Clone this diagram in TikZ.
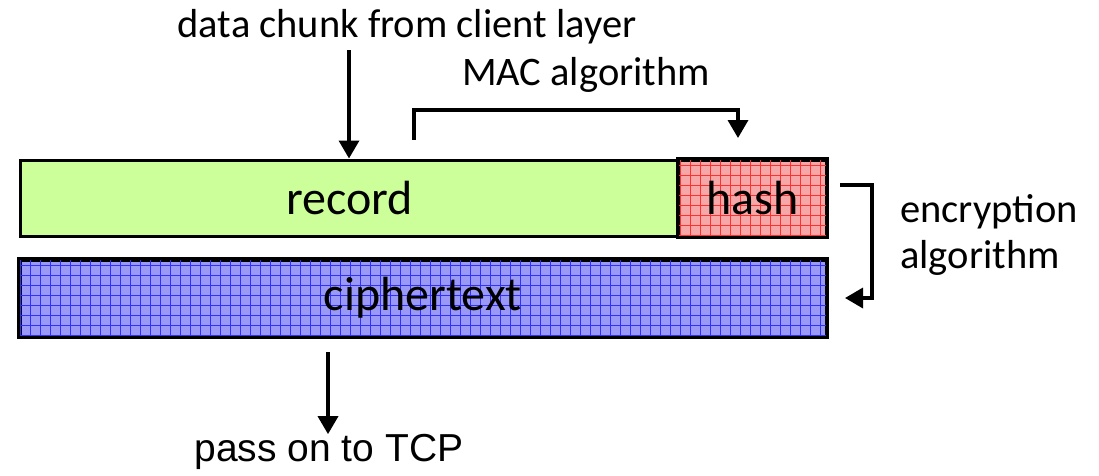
\documentclass[tikz,border=0pt]{standalone}
\usepackage{fontspec}
\setmainfont{Carlito}
\newfontfamily\arialfont{Liberation Sans}
\usetikzlibrary{arrows.meta,patterns.meta}
\definecolor{recgreen}{HTML}{CCFF99}
\definecolor{hashpink}{HTML}{F6A8A8}
\definecolor{hashred}{HTML}{FF3030}
\definecolor{ciphblue}{HTML}{9A9AF6}
\definecolor{ciphline}{HTML}{3030FF}
\tikzset{
  box/.style={draw=black, line width=3pt, minimum height=76pt, inner sep=0pt, font=\fontsize{48}{52}\selectfont},
  lbl/.style={font=\fontsize{40.5}{46}\selectfont, inner sep=0pt},
  conn/.style={line width=3.5pt, -{Triangle[length=18pt,width=20pt]}},
  hatch/.style 2 args={pattern={Lines[angle=#1,distance=10pt,line width=0.9pt]}, pattern color=#2},
}
\begin{document}
\begin{tikzpicture}[x=1pt,y=-1pt]
\useasboundingbox (0,0) rectangle (1099,475);
% boxes
\node[box, fill=recgreen, minimum width=659pt] (record) at (349.5,198) {record};
\node[box, fill=hashpink, minimum width=147pt] (hash) at (752.5,198) {};
\fill[hatch={0}{hashred}] (hash.south west) rectangle (hash.north east);
\fill[hatch={90}{hashred}] (hash.south west) rectangle (hash.north east);
\draw[line width=3pt] (hash.south west) rectangle (hash.north east);
\node[box, draw=none, fill=none, minimum width=147pt] (hashtext) at (hash.center) {hash};
\node[box, fill=ciphblue, minimum width=806pt] (cipher) at (423,298) {};
\fill[hatch={0}{ciphline}] (cipher.south west) rectangle (cipher.north east);
\fill[hatch={90}{ciphline}] (cipher.south west) rectangle (cipher.north east);
\draw[line width=3pt] (cipher.south west) rectangle (cipher.north east);
\node[box, draw=none, fill=none, minimum width=806pt] (ciphertext) at (cipher.center) {ciphertext};
% labels
\node[lbl] (data) at (407,27) {data chunk from client layer};
\node[lbl] (mac) at (586,75) {MAC algorithm};
\node[lbl, align=left] (enc) at (989,235) {encryption\\algorithm};
\node[lbl, font=\arialfont\fontsize{39}{44}\selectfont] (tcp) at (329,452) {pass on to TCP};
% connectors
\draw[conn] (349,50) -- (record.north -| 349,0);
\coordinate (macstart) at (414,140);
\coordinate (macend) at (738,138);
\draw[conn] (macstart) -- (414,110) -| (macend);
\coordinate (encstart) at (840,185);
\coordinate (encend) at (845,298);
\draw[conn] (encstart) -- (872,185) |- (encend);
\coordinate (tcpstart) at (328,352);
\draw[conn] (tcpstart) -- (tcp.north -| tcpstart);
\end{tikzpicture}
\end{document}
